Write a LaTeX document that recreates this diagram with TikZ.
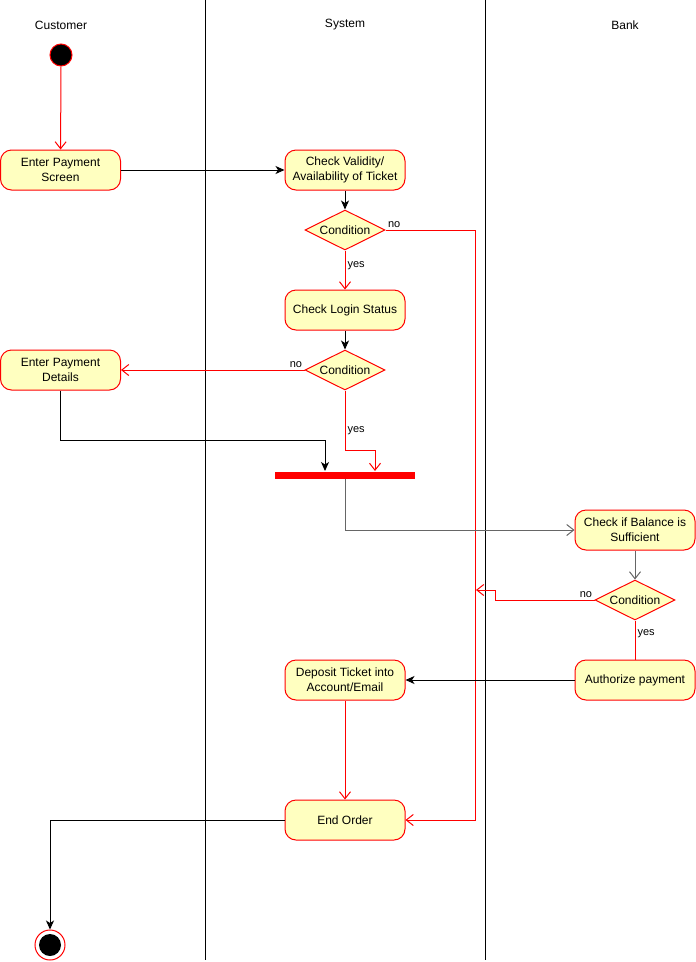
\documentclass[tikz,border=0pt]{standalone}
\usepackage{fontspec}
\setmainfont{Liberation Sans}
\usetikzlibrary{shapes.geometric,arrows.meta}
\definecolor{actfill}{HTML}{FFFFC0}
\definecolor{flowgray}{HTML}{666666}
\tikzset{
    act/.style={draw=red, fill=actfill, rounded corners=11pt, minimum width=120pt, minimum height=40pt,
        align=center, inner sep=2pt, font=\fontsize{12}{15}\selectfont},
    cond/.style={diamond, draw=red, fill=actfill, minimum width=80pt, minimum height=40pt, aspect=2,
        inner sep=0pt, font=\fontsize{12}{15}\selectfont},
    hdr/.style={font=\fontsize{12}{15}\selectfont},
    lbl/.style={font=\fontsize{11}{13}\selectfont, inner sep=2pt},
    redarr/.style={draw=red, -{Straight Barb[length=7pt,width=11pt]}},
    grayarr/.style={draw=flowgray, -{Straight Barb[length=7pt,width=11pt]}},
    blkarr/.style={draw=black, -{Stealth[length=9pt,width=8pt,inset=2.5pt]}},
}
\begin{document}
\begin{tikzpicture}[x=1pt, y=-1pt, line width=1pt]
        \useasboundingbox (0,0) rectangle (696,962);

        % lanes
        \draw (205,0) -- (205,960);
        \draw (485,0) -- (485,960);
        \node[hdr] (hcust) at (61,25) {Customer};
        \node[hdr] (hsys) at (345,25) {System};
        \node[hdr] (hbank) at (625,25) {Bank};

        % nodes
        \node[circle, fill=black, draw=red, minimum size=22pt, inner sep=0pt] (start) at (61,55) {};
        \node[act] (eps) at (60.5,170) {Enter Payment\\Screen};
        \node[act] (cva) at (345,170) {Check Validity/\\Availability of Ticket};
        \node[cond] (c1) at (345,230) {Condition};
        \node[act] (cls) at (345,310) {Check Login Status};
        \node[cond] (c2) at (345,370) {Condition};
        \node[act] (epd) at (60.5,370) {Enter Payment\\Details};
        \node[fill=red, minimum width=140pt, minimum height=7pt, inner sep=0pt] (bar) at (345,475) {};
        \node[act] (cbs) at (635,530) {Check if Balance is\\Sufficient};
        \node[cond] (c3) at (635,600) {Condition};
        \node[act] (ap) at (635,680) {Authorize payment};
        \node[act] (dt) at (345,680) {Deposit Ticket into\\Account/Email};
        \node[act] (eo) at (345,820) {End Order};
        \node[circle, draw=red, fill=white, minimum size=30pt, inner sep=0pt,
            path picture={\fill[black] (path picture bounding box.center) circle (11pt);}] (fin) at (50,945) {};
        \coordinate (rail) at (475,0);
        \coordinate (railhit) at (476,590);

        % flows
        \draw[redarr] (start) -- (eps);
        \draw[blkarr] (eps) -- (cva);
        \draw[blkarr] (cva) -- (c1);
        \draw[redarr] (c1) -- node[lbl, right, pos=0.38]{yes} (cls);
        \draw[redarr] (c1.east) -- node[lbl, above right, pos=0]{no} (c1.east -| rail) |- (eo.east);
        \draw[blkarr] (cls) -- (c2);
        \draw[redarr] (c2.west) -- node[lbl, above left, pos=0]{no} (epd.east);
        \draw[redarr] (c2.south) -- node[lbl, right, pos=0.68]{yes} (345,450) -| ([xshift=30pt]bar.north);
        \draw[blkarr] (epd.south) -- (60.5,440) -| ([xshift=-20pt]bar.north);
        \draw[grayarr] (bar.south) |- (cbs.west);
        \draw[grayarr] (cbs) -- (c3);
        \draw[redarr] (c3.west) -- node[lbl, above left, pos=0]{no} (495,600) -- (495,590) -- (railhit);
        \draw[draw=red] (c3.south) -- node[lbl, right, pos=0.35]{yes} (ap.north);
        \draw[blkarr] (ap) -- (dt);
        \draw[redarr] (dt) -- (eo);
        \draw[blkarr] (eo.west) -| (fin.north);
    \end{tikzpicture}
\end{document}
